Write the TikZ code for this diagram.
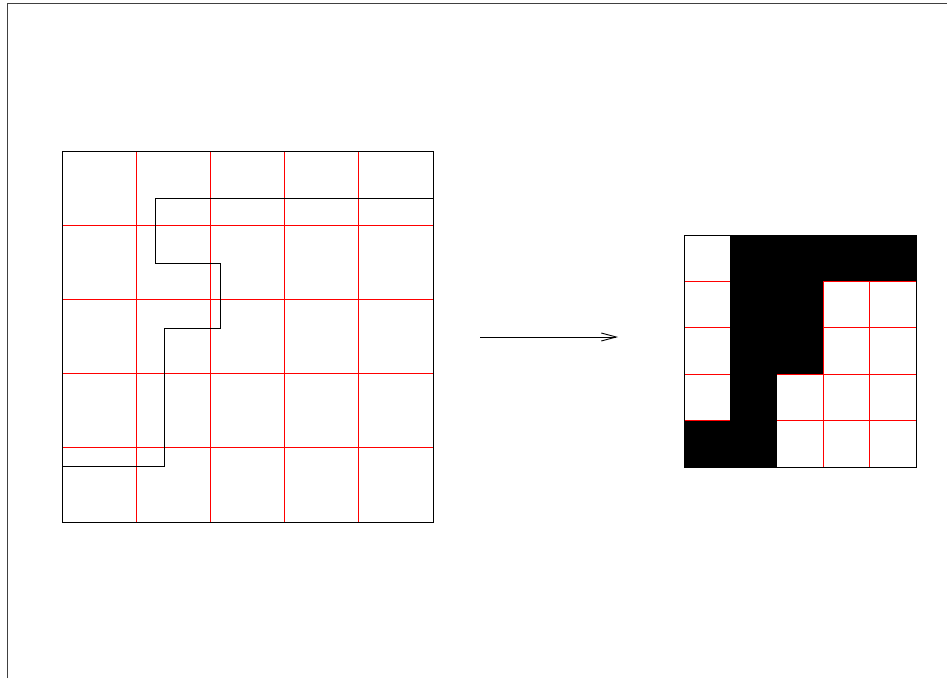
\documentclass[tikz,border=0pt]{standalone}
\usetikzlibrary{arrows.meta}
\begin{document}
\begin{tikzpicture}[x=1pt,y=-1pt,
  gridline/.style={red,line width=0.8pt},
  outline/.style={black,line width=0.9pt}]
\useasboundingbox (0,0) rectangle (947,678);
% frame
\draw[outline,black!75] (7,678) -- (7,3) -- (947,3);
% left grid
\foreach \i in {1,...,4}{
  \draw[gridline] (62+74.2*\i,151) -- (62+74.2*\i,522);
  \draw[gridline] (62,151+74.2*\i) -- (433,151+74.2*\i);
}
\draw[outline] (62,151) rectangle (433,522);
% contour
\draw[outline] (62,466) -- (164,466) -- (164,328) -- (220,328) -- (220,263)
  -- (155,263) -- (155,198) -- (433,198);
% arrow
\coordinate (src) at (480,337);
\coordinate (dst) at (618,337);
\draw[-{Straight Barb[length=15pt,width=8pt]},line width=0.9pt] (src) -- (dst);
% right grid
\foreach \i in {1,...,4}{
  \draw[gridline] (684+46.4*\i,235) -- (684+46.4*\i,467);
  \draw[gridline] (684,235+46.4*\i) -- (916,235+46.4*\i);
}
\foreach \c/\r in {1/0,2/0,3/0,4/0,1/1,2/1,1/2,2/2,1/3,0/4,1/4}
  \fill (684+46.4*\c,235+46.4*\r) rectangle ++(46.4,46.4);
\draw[outline] (684,235) rectangle (916,467);
\end{tikzpicture}
\end{document}
